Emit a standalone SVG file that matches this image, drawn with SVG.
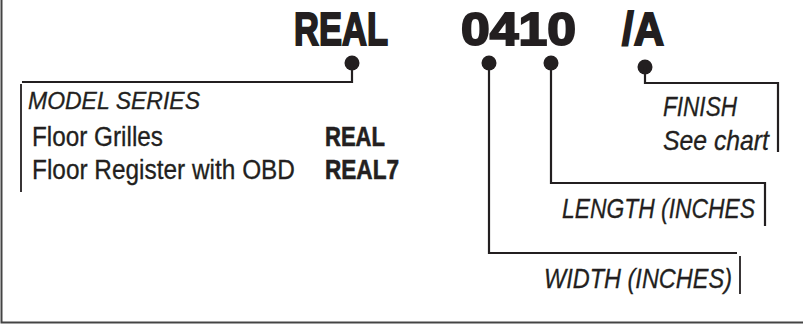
<svg xmlns="http://www.w3.org/2000/svg" width="803" height="324" viewBox="0 0 803 324">
<style>
.t{font-family:"Liberation Sans Narrow","Liberation Sans",Arial,sans-serif;fill:#231f20}
.h{font-size:47px;font-weight:bold;stroke:#231f20;stroke-width:2}
.b{font-size:27px;stroke:#231f20;stroke-width:0.3}
.bb{font-size:27px;font-weight:bold;stroke:#231f20;stroke-width:0.6}
.m{font-size:24px;font-style:italic;stroke:#231f20;stroke-width:0.3}
.i{font-size:28px;font-style:italic;stroke:#231f20;stroke-width:0.3}
.ln{fill:none;stroke:#231f20;stroke-width:2.2}
.bar{fill:none;stroke:#231f20;stroke-width:1.8}
.dot{fill:#231f20}
</style>
<rect width="803" height="324" fill="#fff"/>
<path d="M1.5 0 V322.5 H803" fill="none" stroke="#444" stroke-width="2"/>
<g id="title">
<text class="t h" x="294" y="45" textLength="94" lengthAdjust="spacingAndGlyphs">REAL</text>
<text class="t h" x="461" y="45" textLength="115" lengthAdjust="spacingAndGlyphs">0410</text>
<text class="t h" x="622" y="45" textLength="42" lengthAdjust="spacingAndGlyphs">/A</text>
</g>
<g id="connectors">
<circle class="dot" cx="352" cy="63" r="7.5"/>
<path class="ln" d="M352 63 V82 H22"/>
<path class="bar" d="M21 84 V192"/>
<circle class="dot" cx="489" cy="63" r="7.5"/>
<path class="ln" d="M489 63 V253 H737"/>
<path class="bar" d="M740 256 V294"/>
<circle class="dot" cx="551" cy="63" r="7.5"/>
<path class="ln" d="M551 63 V183 H765 V226"/>
<circle class="dot" cx="645" cy="67" r="7.5"/>
<path class="ln" d="M645 67 V83 H778 V152"/>
</g>
<g id="model-series">
<text class="t m" x="28" y="109" textLength="172" lengthAdjust="spacingAndGlyphs">MODEL SERIES</text>
<text class="t b" x="32" y="146" textLength="131" lengthAdjust="spacingAndGlyphs">Floor Grilles</text>
<text class="t bb" x="325" y="146" textLength="60" lengthAdjust="spacingAndGlyphs">REAL</text>
<text class="t b" x="32" y="179" textLength="263" lengthAdjust="spacingAndGlyphs">Floor Register with OBD</text>
<text class="t bb" x="325" y="179" textLength="74" lengthAdjust="spacingAndGlyphs">REAL7</text>
</g>
<g id="finish">
<text class="t i" x="663" y="116" textLength="74" lengthAdjust="spacingAndGlyphs">FINISH</text>
<text class="t i" x="663" y="150" textLength="106" lengthAdjust="spacingAndGlyphs">See chart</text>
</g>
<g id="length">
<text class="t i" x="562" y="218" textLength="193" lengthAdjust="spacingAndGlyphs">LENGTH (INCHES</text>
</g>
<g id="width">
<text class="t i" x="544" y="288" textLength="188" lengthAdjust="spacingAndGlyphs">WIDTH (INCHES)</text>
</g>
</svg>
